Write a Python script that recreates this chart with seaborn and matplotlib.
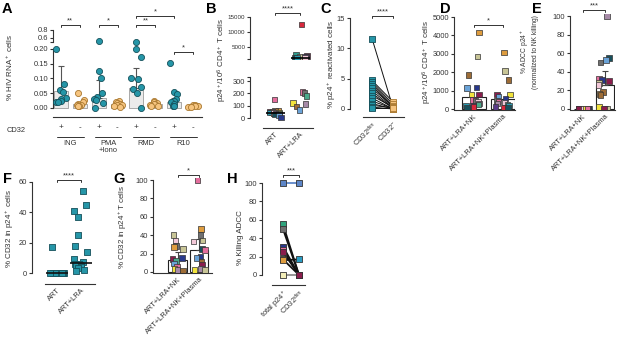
import warnings
warnings.filterwarnings('ignore')
import numpy as np
import pandas as pd
import matplotlib
matplotlib.use('Agg')
import matplotlib.pyplot as plt
import matplotlib.transforms as mtrans
import seaborn as sns

# ---------------------------------------------------------------- data
# Panel A : % HIV RNA+ cells
a_conditions = ['ING+', 'ING-', 'PMA+', 'PMA-', 'RMD+', 'RMD-', 'R10+', 'R10-']
a_signs = ['+', '-', '+', '-', '+', '-', '+', '-']
a_groups = ['ING', 'PMA\n+Iono', 'RMD', 'R10']
a_bar = [0.057, 0.013, 0.035, 0.013, 0.068, 0.013, 0.022, 0.007]
a_err_top = [0.142, 0.013, 0.095, 0.013, 0.135, 0.013, 0.035, 0.007]
a_ing_pos = [0.20, 0.08, 0.06, 0.055, 0.035, 0.030, 0.025, 0.022, 0.020]
a_ing_neg = [0.050, 0.028, 0.020, 0.015, 0.011, 0.009, 0.008, 0.006]
a_pma_pos = [0.53, 0.125, 0.100, 0.050, 0.036, 0.030, 0.027, 0.017, 0.000]
a_pma_neg = [0.025, 0.020, 0.016, 0.013, 0.011, 0.009, 0.007, 0.005]
a_rmd_pos = [0.51, 0.200, 0.173, 0.100, 0.098, 0.072, 0.065, 0.050, 0.000]
a_rmd_neg = [0.025, 0.021, 0.017, 0.014, 0.012, 0.010, 0.008, 0.006]
a_r10_pos = [0.153, 0.053, 0.047, 0.030, 0.025, 0.020, 0.012, 0.008, 0.006]
a_r10_neg = [0.010, 0.009, 0.008, 0.006, 0.005, 0.004]

# Panel B : p24+/10^6 CD4+ T cells
b_cats = ['ART', 'ART+LRA']
b_art_val = [150, 60, 55, 52, 50, 48, 46, 45, 43, 42, 40, 38, 35, 30, 25, 5]
b_art_donor = ['D07', 'D15', 'D13', 'D03', 'D06', 'D12', 'D01', 'D17',
               'D05', 'D08', 'D11', 'D10', 'D16', 'D09', 'D14', 'D04']
b_lra_val = [12500, 2500, 2000, 1800, 1700, 1600, 1500, 1450, 1400,
             210, 205, 180, 120, 115, 95, 65]
b_lra_donor = ['D01', 'D02', 'D03', 'D04', 'D16', 'D06', 'D08', 'D09', 'D17',
               'D07', 'D05', 'D10', 'D11', 'D12', 'D13', 'D14']

# Panel C : % p24+ reactivated cells (paired)
c_cats = ['CD32$^{dim}$', 'CD32$^{-}$']
c_dim = [11.6, 4.7, 4.4, 4.1, 3.8, 3.4, 3.0, 2.6, 2.2, 1.8, 1.3, 0.9, 0.6, 0.3, 0.1]
c_neg = [0.2, 1.2, 0.8, 0.5, 0.3, 0.4, 0.2, 0.1, 0.3, 0.0, 0.1, 0.0, 0.2, 0.0, 0.1]

# Panel D : p24+/10^6 CD4+ T cells after NK
d_cats = ['ART+LRA+NK', 'ART+LRA+NK+Plasma']
d_bar = [650, 530]
d_nk_val = [4160, 2850, 1850, 1180, 1130, 800, 790, 500, 430, 380, 300, 250, 200, 150, 100, 50]
d_nk_donor = ['D15', 'D06', 'D13', 'D04', 'D14', 'D11', 'D03', 'D07',
              'D05', 'D08', 'D12', 'D10', 'D17', 'D16', 'D01', 'D09']
d_pl_val = [3070, 2070, 1580, 800, 790, 640, 580, 450, 400, 350, 300, 250, 200, 120, 80, 40]
d_pl_donor = ['D15', 'D06', 'D13', 'D11', 'D03', 'D14', 'D04', 'D05',
              'D07', 'D08', 'D12', 'D10', 'D17', 'D16', 'D01', 'D09']

# Panel E : % ADCC p24+
e_cats = ['ART+LRA+NK', 'ART+LRA+NK+Plasma']
e_bar = [0, 26]
e_err_top = [0, 41]
e_nk_val = [0, 0, 0, 0, 0, 0, 0, 0, 0, 0]
e_nk_donor = ['D10', 'D14', 'D05', 'D13', 'D04', 'D12', 'D08', 'D11', 'D07', 'D03']
e_pl_val = [100, 55, 53, 50, 33, 31, 30, 28, 26, 18, 16, 15, 2, 0, 0, 0]
e_pl_donor = ['D12', 'D09', 'D14', 'D05', 'D07', 'D04', 'D03', 'D06',
              'D08', 'D13', 'D15', 'D13', 'D11', 'D08', 'D06', 'D03']

# Panel F : % CD32 in p24+ cells
f_cats = ['ART', 'ART+LRA']
f_art = [17, 0, 0, 0, 0, 0, 0, 0, 0, 0, 0, 0]
f_lra = [54, 45, 41, 37, 25, 18, 14, 9, 7, 6, 6, 5.5, 5, 4.5, 4, 3, 2, 1.5]

# Panel G : % CD32 in p24+ T cells
g_cats = ['ART+LRA+NK', 'ART+LRA+NK+Plasma']
g_bar = [13, 24]
g_err_top = [22, 36]
g_nk_val = [40, 34, 28, 27, 25, 15, 14, 12, 9, 6, 3, 2, 1]
g_nk_donor = ['D06', 'D08', 'D05', 'D15', 'D06', 'D04', 'D03', 'D10',
              'D14', 'D07', 'D11', 'D12', 'D13']
g_pl_val = [100, 47, 40, 34, 33, 25, 24, 17, 15, 11, 8, 3, 2, 2]
g_pl_donor = ['D07', 'D15', 'D05', 'D06', 'D08', 'D09', 'D07', 'D04',
              'D14', 'D13', 'D03', 'D12', 'D11', 'D06']

# Panel H : % Killing ADCC (paired)
h_cats = ['total p24$^+$', 'CD32$^{dim}$']
h_total = [100, 55, 50, 31, 27, 25, 17, 16, 0]
h_dim = [100, 0, 0, 0, 0, 0, 0, 17, 0]
h_donor = ['P1', 'P2', 'P3', 'P4', 'P5', 'P6', 'P7', 'P8', 'P9']

# ---------------------------------------------------------------- style
donor_pal = {
    'D01': '#d8283c', 'D02': '#2f9c8c', 'D03': '#8a1d4c', 'D04': '#28388c',
    'D05': '#6f6f6f', 'D06': '#c8c596', 'D07': '#e46e9d', 'D08': '#f3c8d8',
    'D09': '#17505c', 'D10': '#4aa98a', 'D11': '#f2e43c', 'D12': '#a78ba8',
    'D13': '#9d6c36', 'D14': '#6aa3d8', 'D15': '#de9c3e', 'D16': '#5a3a88',
    'D17': '#2a9cb2',
}
h_pal_left = {'P1': '#5d86c8', 'P2': '#2fa37c', 'P3': '#6f6f6f', 'P4': '#28388c',
              'P5': '#e46e9d', 'P6': '#8a1d4c', 'P7': '#9d6c36', 'P8': '#de9c3e',
              'P9': '#f3eeb8'}
h_pal_right = {'P1': '#5d86c8', 'P2': '#8a1d4c', 'P3': '#8a1d4c', 'P4': '#8a1d4c',
               'P5': '#8a1d4c', 'P6': '#8a1d4c', 'P7': '#8a1d4c', 'P8': '#2a9cc2',
               'P9': '#8a1d4c'}
h_line_pal = {'P1': '#5d86c8', 'P2': '#111111', 'P3': '#111111', 'P4': '#111111',
              'P5': '#111111', 'P6': '#111111', 'P7': '#111111', 'P8': '#111111',
              'P9': '#8c8c8c'}
TEAL, TEAL_E = '#2596a8', '#15505a'
ORANGE, ORANGE_E = '#f6c47f', '#a9782f'
INK = '#333333'
FS = 5.4      # tick labels
FL = 5.8      # axis labels

sns.set_theme(style='ticks')
plt.rcParams['font.family'] = ['Liberation Sans', 'DejaVu Sans']
plt.rcParams['mathtext.fontset'] = 'custom'
plt.rcParams['mathtext.rm'] = 'Liberation Sans'
plt.rcParams['mathtext.it'] = 'Liberation Sans:italic'
plt.rcParams['mathtext.bf'] = 'Liberation Sans:bold'
np.random.seed(7)

W, H = 617, 343
fig = plt.figure(figsize=(W / 100, H / 100), dpi=100)


def box(l, t, r, b):
    return fig.add_axes([l / W, 1 - b / H, (r - l) / W, (b - t) / H])


def style(ax, bottom=True, fs=FS):
    sns.despine(ax=ax)
    for s in ['left', 'bottom']:
        ax.spines[s].set_color(INK)
        ax.spines[s].set_linewidth(0.8)
    ax.tick_params(axis='y', length=2.2, width=0.8, color=INK, labelsize=fs,
                   labelcolor=INK, pad=1.2)
    ax.tick_params(axis='x', length=0, labelsize=FS, labelcolor=INK, pad=2)
    ax.set_xlabel('')
    ax.set_ylabel('')
    ax.set_facecolor('none')
    if not bottom:
        ax.spines['bottom'].set_visible(False)
        ax.set_xticks([])


def rot_labels(ax, labels):
    ax.set_xticks(range(len(labels)))
    ax.set_xticklabels(labels, rotation=45, ha='right', rotation_mode='anchor', fontsize=FS)


def sig(ax, x1, x2, ypx, txt):
    tr = mtrans.blended_transform_factory(ax.transData, fig.transFigure)
    y = 1 - ypx / H
    d = 2.0 / H
    ax.plot([x1, x1, x2, x2], [y - d, y, y, y - d], transform=tr, color=INK,
            lw=0.7, clip_on=False)
    ax.text((x1 + x2) / 2, y + 0.5 / H, txt, transform=tr, ha='center', va='bottom',
            fontsize=FS, color=INK)


def ylab(xpx, ypx, txt, fs=FL, **kw):
    fig.text(xpx / W, 1 - ypx / H, txt, rotation=90, ha='center', va='center',
             fontsize=fs, color=INK, **kw)


def letter(xpx, ypx, txt):
    fig.text(xpx / W, 1 - ypx / H, txt, ha='left', va='top', fontsize=10.5,
             fontweight='bold', color='black')


def strip(ax, df, order, jitter, marker='s', size=4.0, **kw):
    sns.stripplot(data=df, x='cond', y='val', hue='donor', palette=donor_pal,
                  order=order, marker=marker, size=size, linewidth=0.5,
                  edgecolor=INK, jitter=jitter, legend=False, ax=ax, zorder=4, **kw)


# ---------------------------------------------------------------- Panel A
a_values = [a_ing_pos, a_ing_neg, a_pma_pos, a_pma_neg,
            a_rmd_pos, a_rmd_neg, a_r10_pos, a_r10_neg]
a_df = pd.DataFrame({
    'cond': np.repeat(a_conditions, [len(v) for v in a_values]),
    'val': np.concatenate(a_values),
})
a_df['sign'] = a_df['cond'].str[-1]

axA = box(53, 46, 202, 117)
axAu = box(53, 28, 202, 44)
sns.barplot(x=a_conditions, y=a_bar, order=a_conditions, color='#ebebeb',
            saturation=1, edgecolor='#a8a8a8', linewidth=0.7, width=0.74,
            ax=axA, zorder=1)
axA.errorbar(np.arange(len(a_conditions)), a_bar,
             yerr=[np.zeros(len(a_bar)), np.array(a_err_top) - np.array(a_bar)],
             fmt='none', ecolor='#555555', elinewidth=0.8, capsize=2.5,
             capthick=0.8, zorder=3)
for ax, sub in [(axA, a_df[a_df.val < 0.3]), (axAu, a_df[a_df.val >= 0.3])]:
    for sgn, fc, ec in [('+', TEAL, TEAL_E), ('-', ORANGE, ORANGE_E)]:
        part = sub[sub.sign == sgn]
        if len(part):
            sns.stripplot(data=part, x='cond', y='val', order=a_conditions,
                          color=fc, size=4.4, linewidth=0.6, edgecolor=ec,
                          jitter=0.3, ax=ax, zorder=4)
for ax in (axA, axAu):
    ax.set_xlim(-0.42, 7.48)
style(axA)
style(axAu, bottom=False)
axA.set_ylim(-0.0305, 0.210)
axA.set_yticks([0, 0.05, 0.10, 0.15, 0.20])
axA.set_yticklabels(['0.00', '0.05', '0.10', '0.15', '0.20'])
axA.spines['left'].set_bounds(0, 0.2)
axA.set_xticks(range(8))
axA.set_xticklabels(a_signs, fontsize=FS + 0.5)
axA.tick_params(axis='x', pad=5)
axAu.set_ylim(0.45, 0.85)
axAu.set_yticks([0.5, 0.6, 0.8])
axAu.set_yticklabels(['', '0.6', '0.8'])
axAu.spines['left'].set_bounds(0.5, 0.8)
for c in axA.collections + axAu.collections:
    c.set_clip_on(False)
trA = mtrans.blended_transform_factory(axA.transData, fig.transFigure)
for i, g in enumerate(a_groups):
    x0 = 2 * i
    axA.plot([x0 - 0.2, x0 + 1.2], [1 - 137 / H] * 2, transform=trA, color=INK,
             lw=0.7, clip_on=False)
    axA.text(x0 + 0.5, 1 - 140 / H, g, transform=trA, ha='center', va='top',
             fontsize=FS, color=INK, linespacing=1.05)
fig.text(7 / W, 1 - 130 / H, 'CD32', ha='left', va='center', fontsize=FS, color=INK)
sig(axA, 0, 1, 25, '**')
sig(axA, 2, 3, 25, '*')
sig(axA, 4, 5, 25, '**')
sig(axA, 4, 6, 16, '*')
sig(axA, 6, 7, 52, '*')
ylab(10, 67, '% HIV RNA$^+$ cells')
letter(2, 2, 'A')

# ---------------------------------------------------------------- Panel B
b_df = pd.DataFrame({
    'cond': ['ART'] * len(b_art_val) + ['ART+LRA'] * len(b_lra_val),
    'val': b_art_val + b_lra_val,
    'donor': b_art_donor + b_lra_donor,
})
axBu = box(250, 15, 315, 60)
axBl = box(250, 77, 315, 128)
strip(axBu, b_df[b_df.val > 500], b_cats, 0.3)
strip(axBl, b_df[b_df.val <= 500], b_cats, 0.3)
for ax in (axBu, axBl):
    ax.set_xlim(-1.0, 1.6)
style(axBu, bottom=False, fs=4.5)
style(axBl)
axBu.set_ylim(667, 15667)
axBu.set_yticks([1000, 5000, 10000, 15000])
axBu.set_yticklabels(['', '5000', '10000', '15000'])
axBu.spines['left'].set_bounds(1000, 15000)
axBl.set_ylim(-81, 333)
axBl.set_yticks([0, 100, 200, 300, 330])
axBl.set_yticklabels(['0', '100', '200', '300', ''])
axBl.spines['left'].set_bounds(0, 330)
axBl.spines['bottom'].set_bounds(-0.5, 1.5)
rot_labels(axBl, b_cats)
for i, c in enumerate(b_cats):
    m = np.median(b_df[b_df.cond == c].val)
    ax = axBu if m > 500 else axBl
    ax.hlines(m, i - 0.38, i + 0.38, color='black', lw=1.2, zorder=5)
sig(axBl, 0, 1, 13, '****')
ylab(222, 60, 'p24$^+$/10$^6$ CD4$^+$ T cells')
letter(206, 2, 'B')

# ---------------------------------------------------------------- Panel C
c_pairs = np.arange(len(c_dim))
c_df = pd.DataFrame({
    'pair': np.concatenate([c_pairs, c_pairs]),
    'pos': [0] * len(c_dim) + [1] * len(c_neg),
    'val': c_dim + c_neg,
})
axC = box(350, 15, 405, 117)
sns.lineplot(data=c_df, x='pos', y='val', units='pair', estimator=None,
             color='#111111', lw=0.7, ax=axC, legend=False, zorder=2)
sns.scatterplot(data=c_df[c_df.pos == 0], x='pos', y='val', color=TEAL, marker='s',
                s=18, linewidth=0.6, edgecolor=TEAL_E, ax=axC, zorder=3, clip_on=False)
sns.scatterplot(data=c_df[c_df.pos == 1], x='pos', y='val', color=ORANGE, marker='s',
                s=18, linewidth=0.6, edgecolor=ORANGE_E, ax=axC, zorder=3, clip_on=False)
style(axC)
axC.set_xlim(-1.05, 1.57)
axC.set_ylim(-1.32, 15.5)
axC.set_yticks([0, 5, 10, 15])
axC.spines['left'].set_bounds(0, 15)
axC.spines['bottom'].set_bounds(-0.45, 1.5)
rot_labels(axC, c_cats)
axC.set_xlabel('')
axC.set_ylabel('')
sig(axC, 0, 1, 16, '****')
ylab(332, 64, '% p24$^+$ reactivated cells')
letter(320, 2, 'C')

# ---------------------------------------------------------------- Panel D
d_df = pd.DataFrame({
    'cond': [d_cats[0]] * len(d_nk_val) + [d_cats[1]] * len(d_pl_val),
    'val': d_nk_val + d_pl_val,
    'donor': d_nk_donor + d_pl_donor,
})
axD = box(454, 15, 515, 110)
sns.barplot(x=d_cats, y=d_bar, order=d_cats, color='white', saturation=1,
            edgecolor='#222222', linewidth=0.8, width=0.82, ax=axD, zorder=1)
strip(axD, d_df, d_cats, 0.28)
style(axD)
axD.set_xlim(-0.69, 1.41)
axD.set_ylim(-54, 5109)
axD.set_yticks([0, 1000, 2000, 3000, 4000, 5000])
axD.spines['left'].set_bounds(0, 5000)
rot_labels(axD, d_cats)
sig(axD, 0, 1, 25, '*')
ylab(427, 62, 'p24$^+$/10$^6$ CD4$^+$ T cells')
letter(440, 2, 'D')

# ---------------------------------------------------------------- Panel E
e_df = pd.DataFrame({
    'cond': [e_cats[0]] * len(e_nk_val) + [e_cats[1]] * len(e_pl_val),
    'val': e_nk_val + e_pl_val,
    'donor': e_nk_donor + e_pl_donor,
})
axE = box(570, 14, 615, 110)
sns.barplot(x=e_cats, y=e_bar, order=e_cats, color='white', saturation=1,
            edgecolor='#222222', linewidth=0.8, width=0.82, ax=axE, zorder=1)
axE.errorbar(np.arange(2), e_bar,
             yerr=[np.zeros(2), np.array(e_err_top) - np.array(e_bar)],
             fmt='none', ecolor='#444444', elinewidth=0.8, capsize=2.5,
             capthick=0.8, zorder=3)
strip(axE, e_df, e_cats, 0.3)
style(axE)
axE.set_xlim(-0.59, 1.45)
axE.set_ylim(-1.1, 102.2)
axE.set_yticks([0, 20, 40, 60, 80, 100])
axE.spines['left'].set_bounds(0, 100)
rot_labels(axE, e_cats)
sig(axE, 0, 1, 10, '***')
ylab(529, 52, '% ADCC p24$^+$\n(normalized to NK killing)', fs=4.8, linespacing=1.2)
letter(532, 2, 'E')

# ---------------------------------------------------------------- Panel F
f_df = pd.DataFrame({
    'cond': ['ART'] * len(f_art) + ['ART+LRA'] * len(f_lra),
    'val': f_art + f_lra,
})
axF = box(32, 180, 97, 284)
sns.stripplot(data=f_df, x='cond', y='val', order=f_cats, color=TEAL, marker='s',
              size=4.2, linewidth=0.6, edgecolor=TEAL_E, jitter=0.3, ax=axF, zorder=3)
style(axF)
axF.set_xlim(-1.04, 1.67)
axF.set_ylim(-7.25, 61.3)
axF.set_yticks([0, 20, 40, 60])
axF.spines['left'].set_bounds(0, 60)
axF.spines['bottom'].set_bounds(-0.5, 1.58)
rot_labels(axF, f_cats)
for i, c in enumerate(f_cats):
    m = np.median(f_df[f_df.cond == c].val)
    axF.hlines(m, i - 0.45, i + 0.45, color='#111111', lw=1.2, zorder=5)
sig(axF, 0, 1, 180, '****')
ylab(10, 228, '% CD32 in p24$^+$ cells')
letter(3, 172, 'F')

# ---------------------------------------------------------------- Panel G
g_df = pd.DataFrame({
    'cond': [g_cats[0]] * len(g_nk_val) + [g_cats[1]] * len(g_pl_val),
    'val': g_nk_val + g_pl_val,
    'donor': g_nk_donor + g_pl_donor,
})
axG = box(153, 178, 212, 273)
sns.barplot(x=g_cats, y=g_bar, order=g_cats, color='white', saturation=1,
            edgecolor='#222222', linewidth=0.8, width=0.86, ax=axG, zorder=1)
axG.errorbar(np.arange(2), g_bar,
             yerr=[np.zeros(2), np.array(g_err_top) - np.array(g_bar)],
             fmt='none', ecolor='#444444', elinewidth=0.8, capsize=2.5,
             capthick=0.8, zorder=3)
strip(axG, g_df, g_cats, 0.3)
style(axG)
axG.set_xlim(-1.14, 1.6)
axG.set_ylim(-1.1, 102.2)
axG.set_yticks([0, 20, 40, 60, 80, 100])
axG.spines['left'].set_bounds(0, 100)
rot_labels(axG, g_cats)
sig(axG, 0, 1, 175, '*')
ylab(123, 227, '% CD32 in p24$^+$T cells')
letter(113, 172, 'G')

# ---------------------------------------------------------------- Panel H
h_df = pd.DataFrame({
    'pair': h_donor + h_donor,
    'pos': [0] * len(h_total) + [1] * len(h_dim),
    'val': h_total + h_dim,
})
axH = box(262, 181, 307, 285)
sns.lineplot(data=h_df, x='pos', y='val', units='pair', hue='pair', palette=h_line_pal,
             estimator=None, lw=1.3, ax=axH, legend=False, zorder=2)
sns.scatterplot(data=h_df[h_df.pos == 0], x='pos', y='val', hue='pair',
                palette=h_pal_left, marker='s', s=18, linewidth=0.6, edgecolor=INK,
                ax=axH, legend=False, zorder=3, clip_on=False)
sns.scatterplot(data=h_df[h_df.pos == 1], x='pos', y='val', hue='pair',
                palette=h_pal_right, marker='s', s=18, linewidth=0.6, edgecolor=INK,
                ax=axH, legend=False, zorder=3, clip_on=False)
style(axH)
axH.set_xlim(-1.31, 1.5)
axH.set_ylim(-10.9, 102.2)
axH.set_yticks([0, 20, 40, 60, 80, 100])
axH.spines['left'].set_bounds(0, 100)
axH.spines['bottom'].set_bounds(-0.69, 1.38)
rot_labels(axH, h_cats)
axH.set_xlabel('')
axH.set_ylabel('')
sig(axH, 0, 1, 175, '***')
ylab(240, 238, '% Killing ADCC')
letter(227, 172, 'H')

fig.savefig('out.png', dpi=100)
